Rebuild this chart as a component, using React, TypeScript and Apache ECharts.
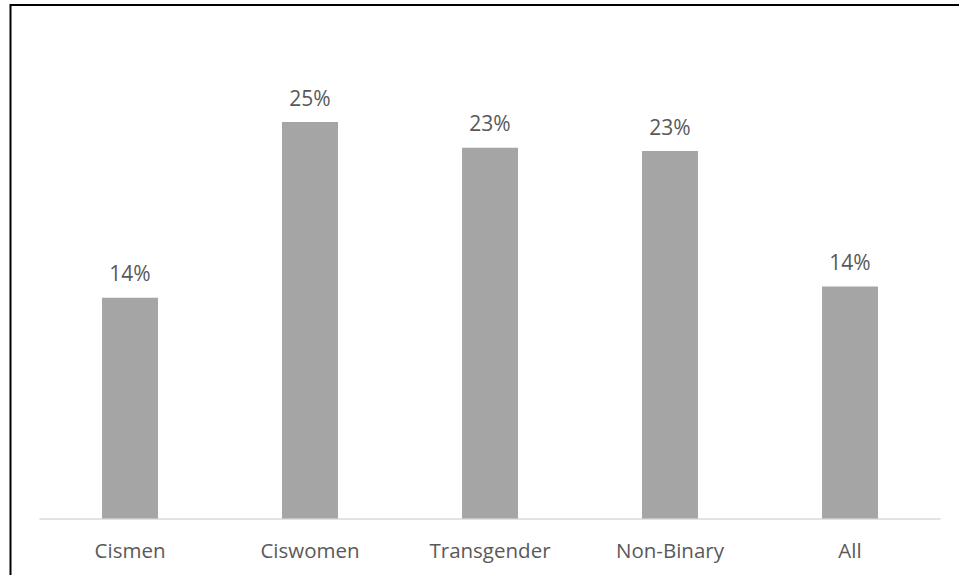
import React, { useEffect, useRef } from "react";
import * as echarts from "echarts";

// Share of respondents by gender group
const categories: string[] = ["Cismen", "Ciswomen", "Transgender", "Non-Binary", "All"];
const shares: number[] = [0.137, 0.246, 0.23, 0.228, 0.144];

const AXIS_MIN = 0;
const AXIS_MAX = 0.3;

const FONT = "'Open Sans', 'Noto Sans', sans-serif";
const TEXT_COLOR = "#595959";
const BAR_COLOR = "#A5A5A5";

export default function App() {
  const ref = useRef<HTMLDivElement | null>(null);

  useEffect(() => {
    if (!ref.current) return;
    const chart = echarts.init(ref.current, undefined, { renderer: "svg" });
    chart.setOption({
      animation: false,
      backgroundColor: "#ffffff",
      grid: { left: 40, right: 19, top: 35, bottom: 56.5, containLabel: false },
      graphic: [
        {
          type: "rect",
          shape: { x: 10.5, y: 5, width: 980, height: 620 },
          style: { fill: "none", stroke: "#000000", lineWidth: 2 },
          silent: true,
          z: 10,
        },
      ],
      xAxis: {
        type: "category",
        data: categories,
        axisLine: { show: true, lineStyle: { color: "#D9D9D9", width: 1.5 } },
        axisTick: { show: false },
        axisLabel: {
          color: TEXT_COLOR,
          fontFamily: FONT,
          fontSize: 20.5,
          margin: 21,
        },
      },
      yAxis: {
        type: "value",
        min: AXIS_MIN,
        max: AXIS_MAX,
        show: false,
        splitLine: { show: false },
      },
      series: [
        {
          type: "bar",
          data: shares,
          barWidth: 56,
          itemStyle: { color: BAR_COLOR },
          label: {
            show: true,
            position: "top",
            distance: 14,
            color: TEXT_COLOR,
            fontFamily: FONT,
            fontSize: 21,
            formatter: (p: any) => `${Math.round(p.value * 100)}%`,
          },
        },
      ],
    });
    return () => chart.dispose();
  }, []);

  return <div ref={ref} style={{ width: 959, height: 575, position: "absolute", left: 0, top: 0 }} />;
}
